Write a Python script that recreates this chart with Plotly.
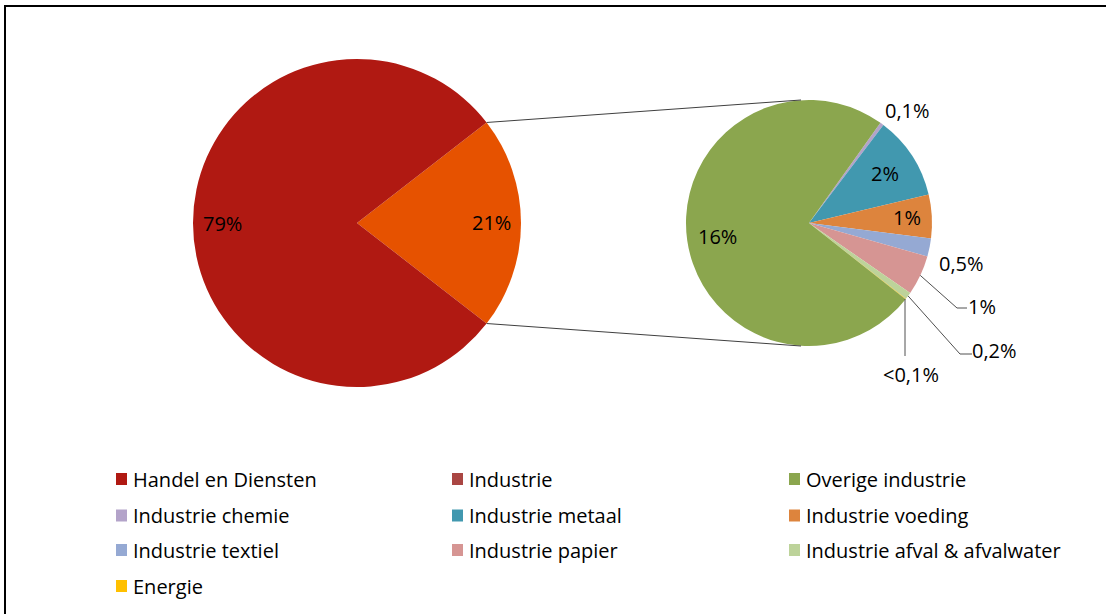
import math
import plotly.graph_objects as go

# ---- data -------------------------------------------------------------
main_labels = ["Industrie", "Handel en Diensten"]
main_values = [21, 79]

detail_labels = [
    "Industrie chemie",
    "Industrie metaal",
    "Industrie voeding",
    "Industrie textiel",
    "Industrie papier",
    "Industrie afval & afvalwater",
    "Energie",
    "Overige industrie",
]
detail_values = [0.1, 2.3, 1.2, 0.5, 1.1, 0.2, 0.01, 15.59]

legend_labels = [
    "Handel en Diensten", "Industrie", "Overige industrie",
    "Industrie chemie", "Industrie metaal", "Industrie voeding",
    "Industrie textiel", "Industrie papier", "Industrie afval & afvalwater",
    "Energie",
]

# ---- styling ------------------------------------------------------------
W, H = 1106, 614
FONT = "Open Sans"
FS = 20

slice_colors = {
    "Handel en Diensten": "#B01912",
    "Industrie": "#E65200",
    "Overige industrie": "#8BA64E",
    "Industrie chemie": "#B3A3C9",
    "Industrie metaal": "#4198AF",
    "Industrie voeding": "#DD843D",
    "Industrie textiel": "#95A9D3",
    "Industrie papier": "#D69593",
    "Industrie afval & afvalwater": "#BDD39A",
    "Energie": "#FFC000",
}
legend_colors = dict(slice_colors)
legend_colors["Industrie"] = "#AA4643"

# pie geometry in pixels (centre x, centre y, radius)
MAIN = (357, 223, 164)
DETAIL = (809, 223, 123)
DETAIL_ROTATION = 35.5


def px(x):
    return x / W


def py(y):
    return 1 - y / H


def pct(v):
    if v < 0.1:
        return "<0,1%"
    if v < 1:
        return f"{v:.1f}".replace(".", ",") + "%"
    return f"{round(v)}%"


def domain(geom):
    cx, cy, r = geom
    return dict(x=[px(cx - r), px(cx + r)], y=[py(cy + r), py(cy - r)])


def point(geom, angle, frac=1.0):
    cx, cy, r = geom
    a = math.radians(angle)
    return cx + frac * r * math.sin(a), cy - frac * r * math.cos(a)


def slice_angles(values, rotation):
    total = sum(values)
    out, start = [], rotation
    for v in values:
        span = 360 * v / total
        out.append((start, start + span))
        start += span
    return out


main_rotation = 90 - 360 * main_values[0] / sum(main_values) / 2

fig = go.Figure()
fig.add_trace(go.Pie(
    labels=main_labels, values=main_values, sort=False, direction="clockwise",
    rotation=main_rotation, domain=domain(MAIN), textinfo="none",
    marker=dict(colors=[slice_colors[l] for l in main_labels], line=dict(width=0)),
    showlegend=False, hoverinfo="label+percent",
))
fig.add_trace(go.Pie(
    labels=detail_labels, values=detail_values, sort=False, direction="clockwise",
    rotation=DETAIL_ROTATION, domain=domain(DETAIL), textinfo="none",
    marker=dict(colors=[slice_colors[l] for l in detail_labels], line=dict(width=0)),
    showlegend=False, hoverinfo="label+value",
))

annotations = []
shapes = []


def text(x, y, s, anchor="center"):
    annotations.append(dict(
        x=px(x), y=py(y), xref="paper", yref="paper", text=s, showarrow=False,
        xanchor=anchor, yanchor="middle",
        font=dict(family=FONT, size=FS, color="#000000"),
    ))


def line(x0, y0, x1, y1, color="#404040", width=1):
    shapes.append(dict(type="line", xref="paper", yref="paper",
                       x0=px(x0), y0=py(y0), x1=px(x1), y1=py(y1),
                       line=dict(color=color, width=width)))


# labels on the main pie
main_total = sum(main_values)
for lab, val, (a0, a1) in zip(main_labels, main_values,
                               slice_angles(main_values, main_rotation)):
    x, y = point(MAIN, (a0 + a1) / 2, 0.82)
    text(x, y, pct(100 * val / main_total))

# connector lines between the Industrie slice and the detail pie
ind0, ind1 = slice_angles(main_values, main_rotation)[0]
sx, sy = point(MAIN, ind0)
ex, ey = point(MAIN, ind1)
line(sx, sy, DETAIL[0] - 8, DETAIL[1] - DETAIL[2])
line(ex, ey, DETAIL[0] - 8, DETAIL[1] + DETAIL[2])

# labels on the detail pie: inside labels, free outside labels and leader lines
inside = {"Industrie metaal": 0.74, "Industrie voeding": 0.8, "Overige industrie": 0.75}
outside = {
    "Industrie chemie": dict(text=(907, 111), anchor="center"),
    "Industrie textiel": dict(text=(961, 263), anchor="center"),
    "Industrie papier": dict(path=[(957, 308), (967, 308)], text=(966, 306), anchor="left"),
    "Industrie afval & afvalwater": dict(path=[(960, 354), (972, 354)], text=(970, 350),
                                         anchor="left"),
    "Energie": dict(path=[(905, 356)], text=(911, 374), anchor="center"),
}
for lab, val, (a0, a1) in zip(detail_labels, detail_values,
                               slice_angles(detail_values, DETAIL_ROTATION)):
    mid = (a0 + a1) / 2
    if lab in inside:
        x, y = point(DETAIL, mid, inside[lab])
        text(x, y, pct(val))
        continue
    spec = outside[lab]
    if "path" in spec:
        x0, y0 = point(DETAIL, mid)
        if lab == "Energie":
            x0 = spec["path"][0][0]
        for (x1, y1) in spec["path"]:
            line(x0, y0, x1, y1, color="#505050")
            x0, y0 = x1, y1
    text(spec["text"][0], spec["text"][1], pct(val), anchor=spec["anchor"])

# legend drawn as a three-column grid
col_x = [116, 452, 789]
row_y = [479, 515.5, 550, 586]
for i, lab in enumerate(legend_labels):
    cx = col_x[i % 3]
    cy = row_y[i // 3]
    shapes.append(dict(type="rect", xref="paper", yref="paper",
                       x0=px(cx), x1=px(cx + 11), y0=py(cy + 6), y1=py(cy - 6),
                       fillcolor=legend_colors[lab], line=dict(width=0)))
    text(cx + 15, cy, lab, anchor="left")

# chart frame
shapes.append(dict(type="rect", xref="paper", yref="paper",
                   x0=px(5), x1=px(W + 10), y0=py(H + 10), y1=py(6),
                   line=dict(color="#000000", width=2), fillcolor="rgba(0,0,0,0)"))

fig.update_layout(
    width=W, height=H, margin=dict(l=0, r=0, t=0, b=0),
    paper_bgcolor="#FFFFFF", plot_bgcolor="#FFFFFF",
    annotations=annotations, shapes=shapes, showlegend=False,
    font=dict(family=FONT, size=FS),
)

fig.write_html("out.html")
